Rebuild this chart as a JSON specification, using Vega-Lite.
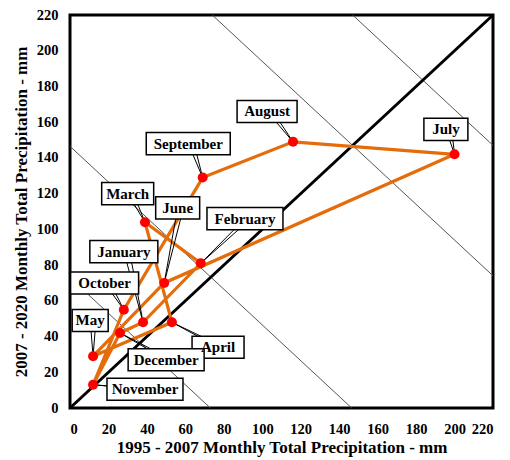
{
  "$schema": "https://vega.github.io/schema/vega-lite/v6.json",
  "width": 423,
  "height": 393,
  "autosize": {"type": "none"},
  "padding": {"left": 70, "top": 15, "right": 17, "bottom": 52},
  "background": "white",
  "config": {
    "font": "Liberation Serif",
    "view": {"stroke": "black", "strokeWidth": 3},
    "axis": {
      "domain": false, "ticks": false, "grid": false,
      "labelFont": "Liberation Serif", "labelFontWeight": "bold", "labelFontSize": 14.5, "labelColor": "black",
      "titleFont": "Liberation Serif", "titleFontWeight": "bold", "titleFontSize": 17, "titleColor": "black"
    }
  },
  "datasets": {
    "months": [
      {"month": "January", "n": 1, "x": 38, "y": 48, "lx": 28, "ly": 87.5},
      {"month": "February", "n": 2, "x": 68, "y": 81, "lx": 91, "ly": 106},
      {"month": "March", "n": 3, "x": 39, "y": 104, "lx": 30, "ly": 120},
      {"month": "April", "n": 4, "x": 53, "y": 48, "lx": 77, "ly": 34},
      {"month": "May", "n": 5, "x": 12, "y": 29, "lx": 10.5, "ly": 49},
      {"month": "June", "n": 6, "x": 49, "y": 70, "lx": 56, "ly": 112},
      {"month": "July", "n": 7, "x": 200, "y": 142, "lx": 195.5, "ly": 156},
      {"month": "August", "n": 8, "x": 116, "y": 149, "lx": 102.5, "ly": 166},
      {"month": "September", "n": 9, "x": 69, "y": 129, "lx": 61.5, "ly": 148},
      {"month": "October", "n": 10, "x": 28, "y": 55, "lx": 18, "ly": 70},
      {"month": "November", "n": 11, "x": 12, "y": 13, "lx": 39, "ly": 10.5},
      {"month": "December", "n": 12, "x": 26, "y": 42, "lx": 50, "ly": 27}
    ],
    "path": [
      {"step": 1, "x": 38, "y": 48},
      {"step": 2, "x": 68, "y": 81},
      {"step": 3, "x": 39, "y": 104},
      {"step": 4, "x": 53, "y": 48},
      {"step": 5, "x": 12, "y": 29},
      {"step": 6, "x": 49, "y": 70},
      {"step": 7, "x": 200, "y": 142},
      {"step": 8, "x": 116, "y": 149},
      {"step": 9, "x": 69, "y": 129},
      {"step": 10, "x": 28, "y": 55},
      {"step": 11, "x": 12, "y": 13},
      {"step": 12, "x": 26, "y": 42},
      {"step": 13, "x": 38, "y": 48}
    ],
    "diag": [
      {"x": 0, "y": 73, "x2": 73, "y2": 0},
      {"x": 0, "y": 146.5, "x2": 146.5, "y2": 0},
      {"x": 74, "y": 220, "x2": 220, "y2": 74},
      {"x": 147, "y": 220, "x2": 220, "y2": 147}
    ],
    "oneone": [{"x": 0, "y": 0, "x2": 220, "y2": 220}]
  },
  "encoding": {
    "x": {
      "field": "x", "type": "quantitative",
      "scale": {"domain": [0, 220], "nice": false},
      "axis": {"values": [0, 20, 40, 60, 80, 100, 120, 140, 160, 180, 200, 220], "labelPadding": 14, "titlePadding": 4, "title": "1995 - 2007 Monthly Total Precipitation - mm"}
    },
    "y": {
      "field": "y", "type": "quantitative",
      "scale": {"domain": [0, 220], "nice": false},
      "axis": {"values": [0, 20, 40, 60, 80, 100, 120, 140, 160, 180, 200, 220], "labelPadding": 12, "titlePadding": 6, "title": "2007 - 2020 Monthly Total Precipitation - mm"}
    }
  },
  "layer": [
    {
      "data": {"name": "diag"},
      "mark": {"type": "rule", "color": "#555555", "strokeWidth": 1},
      "encoding": {"x2": {"field": "x2"}, "y2": {"field": "y2"}}
    },
    {
      "data": {"name": "oneone"},
      "mark": {"type": "rule", "color": "black", "strokeWidth": 3},
      "encoding": {"x2": {"field": "x2"}, "y2": {"field": "y2"}}
    },
    {
      "data": {"name": "path"},
      "mark": {"type": "line", "color": "#E46C0A", "strokeWidth": 3.2},
      "encoding": {"order": {"field": "step", "type": "quantitative"}}
    },
    {
      "data": {"name": "months"},
      "mark": {"type": "rule", "color": "black", "strokeWidth": 1},
      "encoding": {
        "x": {"field": "lx", "type": "quantitative"},
        "y": {"field": "ly", "type": "quantitative"},
        "x2": {"field": "x"}, "y2": {"field": "y"}
      }
    },
    {
      "data": {"name": "months"},
      "transform": [{"calculate": "datum.lx + 3", "as": "lx3"}],
      "mark": {"type": "rule", "color": "black", "strokeWidth": 1},
      "encoding": {
        "x": {"field": "lx3", "type": "quantitative"},
        "y": {"field": "ly", "type": "quantitative"},
        "x2": {"field": "x"}, "y2": {"field": "y"}
      }
    },
    {
      "data": {"name": "months"},
      "mark": {"type": "circle", "color": "#FF0000", "opacity": 1, "size": 100},
      "encoding": {}
    },
    {
      "data": {"name": "months"},
      "transform": [
        {"calculate": "datum.lx - (length(datum.month) * 8 + 12) / 2 / 1.923", "as": "bx1"},
        {"calculate": "datum.lx + (length(datum.month) * 8 + 12) / 2 / 1.923", "as": "bx2"},
        {"calculate": "datum.ly - 6.2", "as": "by1"},
        {"calculate": "datum.ly + 6.2", "as": "by2"}
      ],
      "mark": {"type": "rect", "fill": "white", "stroke": "black", "strokeWidth": 1.5},
      "encoding": {
        "x": {"field": "bx1", "type": "quantitative"},
        "x2": {"field": "bx2"},
        "y": {"field": "by1", "type": "quantitative"},
        "y2": {"field": "by2"}
      }
    },
    {
      "data": {"name": "months"},
      "mark": {"type": "text", "font": "Liberation Serif", "fontWeight": "bold", "fontSize": 15, "color": "black", "baseline": "middle", "align": "center"},
      "encoding": {
        "x": {"field": "lx", "type": "quantitative"},
        "y": {"field": "ly", "type": "quantitative"},
        "text": {"field": "month"}
      }
    }
  ]
}
